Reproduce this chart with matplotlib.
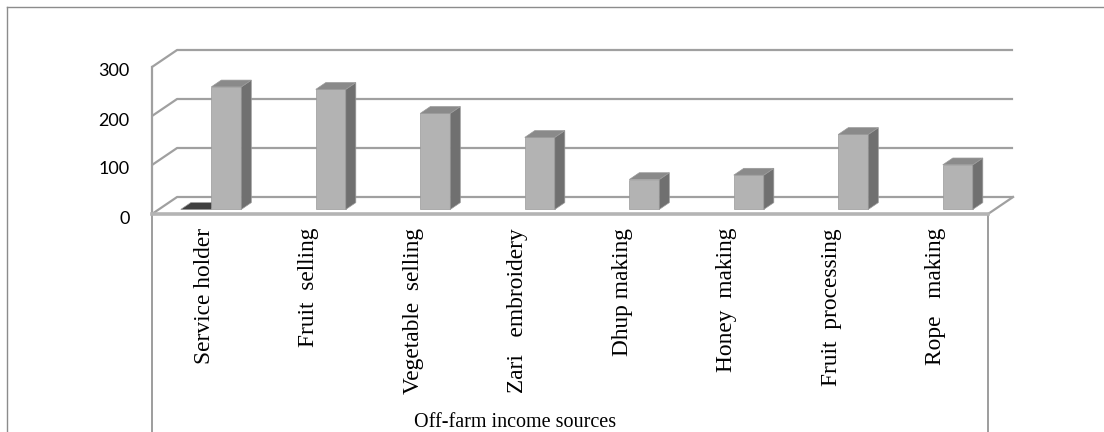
import numpy as np
import matplotlib.pyplot as plt
import matplotlib.transforms as mtransforms
from matplotlib.patches import Polygon
from matplotlib.lines import Line2D

# data
categories = ["Service holder", "Fruit  selling", "Vegetable  selling",
              "Zari   embroidery", "Dhup making", "Honey  making",
              "Fruit  processing", "Rope   making"]
dark_values = [0, np.nan, np.nan, np.nan, np.nan, np.nan, np.nan, np.nan]
grey_values = [250, 245, 196, 147, 61, 70, 153, 91]
y_ticks = [0, 100, 200, 300]
x_title = "Off-farm income sources"

# =========================================================
# 3D LOOK (offsets in data units)
# =========================================================

depth_x = 0.24      # floor depth along x (categories)
depth_y = 34.7      # floor depth along y (values)
bar_w = 0.287
bar_off = 0.146
front_frac = 0.27   # where the bar front face sits in the floor depth
bar_frac = 0.40     # depth of one bar

grid_col = "#a0a0a0"

fig = plt.figure(figsize=(11.04, 4.32), dpi=100)
ax = fig.add_axes([152/1104, 218/432, 836/1104, 147/432])
ax.set_xlim(-0.5, 7.5)
ax.set_ylim(0, 300)
for s in ax.spines.values():
    s.set_visible(False)

x = np.arange(len(categories))
x_lo, x_hi = -0.5, len(categories) - 0.5

# back wall, side wall
for v in y_ticks:
    ax.plot([x_lo, x_lo + depth_x, x_hi + depth_x], [v, v + depth_y, v + depth_y],
            color=grid_col, lw=1.6, clip_on=False, solid_capstyle="butt", zorder=1)

# floor right edge + left wall edge
ax.plot([x_hi, x_hi + depth_x], [0, depth_y], color=grid_col, lw=1.6, clip_on=False, zorder=1)
ax.plot([x_lo, x_lo], [0, 300], color=grid_col, lw=1.6, clip_on=False, zorder=1)

# front floor edge
ax.plot([x_lo, x_hi], [0, 0], color="#b4b4b4", lw=2.6, clip_on=False, zorder=2)

# category box below the floor
ax.plot([x_lo, x_lo], [0, -500], color="#8c8c8c", lw=1.2, clip_on=False, zorder=1)
ax.plot([x_hi, x_hi], [0, -500], color="#8c8c8c", lw=1.2, clip_on=False, zorder=1)


def bar3d(xc, v, front, side, top):
    if np.isnan(v):
        return
    bdx = bar_frac * depth_x
    bdy = bar_frac * depth_y
    x0 = xc - bar_w / 2 + front_frac * depth_x
    x1 = x0 + bar_w
    y0 = front_frac * depth_y
    faces = [
        ([(x0, y0), (x1, y0), (x1, y0 + v), (x0, y0 + v)], front),
        ([(x1, y0), (x1 + bdx, y0 + bdy), (x1 + bdx, y0 + bdy + v), (x1, y0 + v)], side),
        ([(x0, y0 + v), (x1, y0 + v), (x1 + bdx, y0 + v + bdy), (x0 + bdx, y0 + v + bdy)], top),
    ]
    for pts, c in faces:
        ax.add_patch(Polygon(pts, closed=True, facecolor=c, edgecolor="#9a9a9a",
                             lw=0.5, clip_on=False, zorder=3))


for i in range(len(categories)):
    bar3d(x[i] - bar_off, dark_values[i], "#3a3a3a", "#2a2a2a", "#404040")
    bar3d(x[i] + bar_off, grey_values[i], "#b3b3b3", "#707070", "#8a8a8a")

# =========================================================
# AXIS LABELS
# =========================================================

ax.set_yticks(y_ticks)
ax.set_yticklabels([str(t) for t in y_ticks], fontsize=13, family="Lato")
ax.tick_params(axis="y", length=0, pad=16)
shift = mtransforms.ScaledTranslation(0, -3/100, fig.dpi_scale_trans)
for lab in ax.get_yticklabels():
    lab.set_transform(lab.get_transform() + shift)

ax.set_xticks(x)
ax.set_xticklabels(categories, rotation=90, fontsize=16.8, family="Liberation Serif")
ax.tick_params(axis="x", length=0, pad=10)

fig.text(515/1104, 5/432, x_title, ha="center", va="baseline",
         fontsize=14.5, family="Liberation Serif")

# outer border
fig.add_artist(Line2D([7/1104, 1.0], [1 - 7/432, 1 - 7/432], color="#8c8c8c", lw=1.0))
fig.add_artist(Line2D([7/1104, 7/1104], [0, 1 - 7/432], color="#8c8c8c", lw=1.0))

fig.savefig("out.png", dpi=100)
